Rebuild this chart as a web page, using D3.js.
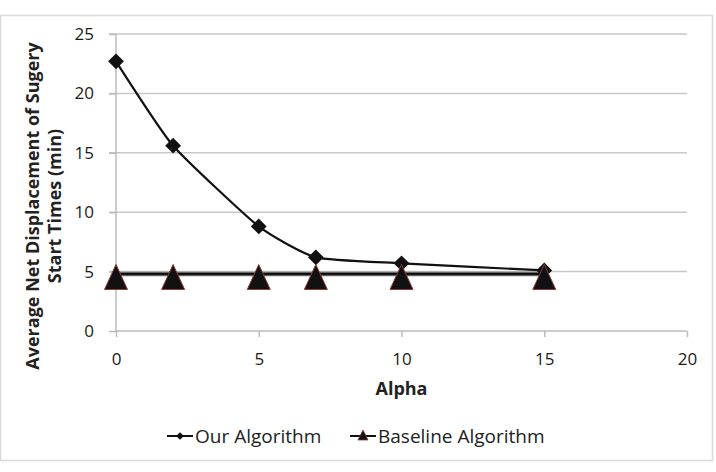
<!DOCTYPE html>
<html lang="en">
<head>
  <meta charset="UTF-8">
  <title>Average Net Displacement</title>
  <style>
    body { margin: 0; background: #fff; font-family: "Open Sans", "Liberation Sans", sans-serif; }
    .grid line { stroke: #c8c8c8; stroke-width: 1.5px; }
    .axis text { font-size: 17px; fill: #1a1a1a; font-family: "Open Sans", sans-serif; }
    .title { font-size: 18px; font-weight: bold; fill: #222; }
    .legend text { font-size: 19px; fill: #222; }
  </style>
</head>
<body>
  <script src="https://d3js.org/d3.v7.min.js"></script>
  <script>
    const alphas = [0, 2, 5, 7, 10, 15];
    const ourAlgorithm = [22.7, 15.6, 8.8, 6.2, 5.7, 5.1];
    const baselineAlgorithm = [4.8, 4.8, 4.8, 4.8, 4.8, 4.8];
    const xTicks = [0, 5, 10, 15, 20];
    const yTicks = [0, 5, 10, 15, 20, 25];

    const width = 716, height = 472;
    const margin = {left: 116, right: 29, top: 34, bottom: 141};
    const svg = d3.select("body").append("svg").attr("width", width).attr("height", height);

    // outer frame
    svg.append("rect").attr("x", 0.5).attr("y", 15.5).attr("width", 712).attr("height", 445)
      .attr("fill", "#fff").attr("stroke", "#d9d9d9").attr("stroke-width", 1.5);

    const x = d3.scaleLinear().domain([0, 20]).range([margin.left, width - margin.right]);
    const y = d3.scaleLinear().domain([0, 25]).range([height - margin.bottom, margin.top]);

    // gridlines
    svg.append("g").attr("class", "grid")
      .selectAll("line").data(yTicks.filter(d => d > 0)).enter().append("line")
      .attr("x1", x(0) - 7).attr("x2", x(20))
      .attr("y1", d => y(d)).attr("y2", d => y(d));

    svg.append("g").attr("class", "axis")
      .attr("transform", `translate(0,${y(0)})`)
      .call(d3.axisBottom(x).tickValues(xTicks).tickSize(6).tickSizeOuter(0).tickPadding(16));
    svg.append("g").attr("class", "axis")
      .attr("transform", `translate(${x(0)},0)`)
      .call(d3.axisLeft(y).tickValues(yTicks).tickSize(7).tickSizeOuter(0).tickPadding(15));
    svg.selectAll(".axis path, .axis line").attr("stroke", "#bbb").attr("stroke-width", 1.5);
    svg.selectAll(".axis .domain").attr("d", null);
    svg.append("line").attr("x1", x(0)).attr("x2", x(0)).attr("y1", y(0)).attr("y2", y(25))
      .attr("stroke", "#bbb").attr("stroke-width", 1.5);
    svg.append("line").attr("x1", x(0)).attr("x2", x(20)).attr("y1", y(0)).attr("y2", y(0))
      .attr("stroke", "#bbb").attr("stroke-width", 1.5);

    // axis titles
    svg.append("text").attr("class", "title").attr("x", x(10)).attr("y", 395)
      .attr("text-anchor", "middle").text("Alpha");
    const yt = svg.append("text").attr("class", "title").attr("text-anchor", "middle")
      .attr("transform", "translate(39,206) rotate(-90)");
    yt.append("tspan").attr("x", 0).attr("dy", 0).text("Average Net Displacement of Sugery");
    yt.append("tspan").attr("x", 0).attr("dy", 22).text("Start Times (min)");

    const ourData = alphas.map((a, i) => ({x: a, y: ourAlgorithm[i]}));
    const baseData = alphas.map((a, i) => ({x: a, y: baselineAlgorithm[i]}));

    // baseline line
    const baseLine = d3.line().x(d => x(d.x)).y(d => y(d.y));
    svg.append("path").datum(baseData)
      .attr("fill", "none").attr("stroke", "#666").attr("stroke-width", 4.5)
      .attr("d", baseLine);
    svg.append("path").datum(baseData)
      .attr("fill", "none").attr("stroke", "#111").attr("stroke-width", 1.8)
      .attr("d", baseLine);

    // our algorithm line (smoothed)
    svg.append("path").datum(ourData)
      .attr("fill", "none").attr("stroke", "#111").attr("stroke-width", 2.2)
      .attr("d", d3.line().curve(d3.curveCardinal.tension(0.5)).x(d => x(d.x)).y(d => y(d.y)));

    svg.append("g").selectAll("path").data(ourData).enter().append("path")
      .attr("d", d3.symbol().type(d3.symbolSquare).size(125))
      .attr("transform", d => `translate(${x(d.x)},${y(d.y)}) rotate(45)`)
      .attr("fill", "#111");

    // triangles: 23px wide, 25px tall, slightly below the line
    const triPath = "M0,-12.5L11.5,12.5L-11.5,12.5Z";
    svg.append("g").selectAll("path").data(baseData).enter().append("path")
      .attr("d", triPath)
      .attr("transform", d => `translate(${x(d.x)},${y(d.y) + 3})`)
      .attr("fill", "#111").attr("stroke", "#8a3a3a").attr("stroke-width", 1);

    // legend
    const legend = svg.append("g").attr("class", "legend");
    legend.append("line").attr("x1", 167).attr("x2", 193).attr("y1", 436).attr("y2", 436)
      .attr("stroke", "#111").attr("stroke-width", 2);
    legend.append("path").attr("d", d3.symbol().type(d3.symbolSquare).size(30))
      .attr("transform", "translate(180,436) rotate(45)").attr("fill", "#111");
    legend.append("text").attr("x", 195).attr("y", 443).text("Our Algorithm");
    legend.append("line").attr("x1", 350).attr("x2", 376).attr("y1", 436).attr("y2", 436)
      .attr("stroke", "#111").attr("stroke-width", 2);
    legend.append("path").attr("d", "M0,-5L5,5L-5,5Z")
      .attr("transform", "translate(363,435)").attr("fill", "#111").attr("stroke", "#8a3a3a").attr("stroke-width", 0.8);
    legend.append("text").attr("x", 378).attr("y", 443).text("Baseline Algorithm");
  </script>
</body>
</html>
